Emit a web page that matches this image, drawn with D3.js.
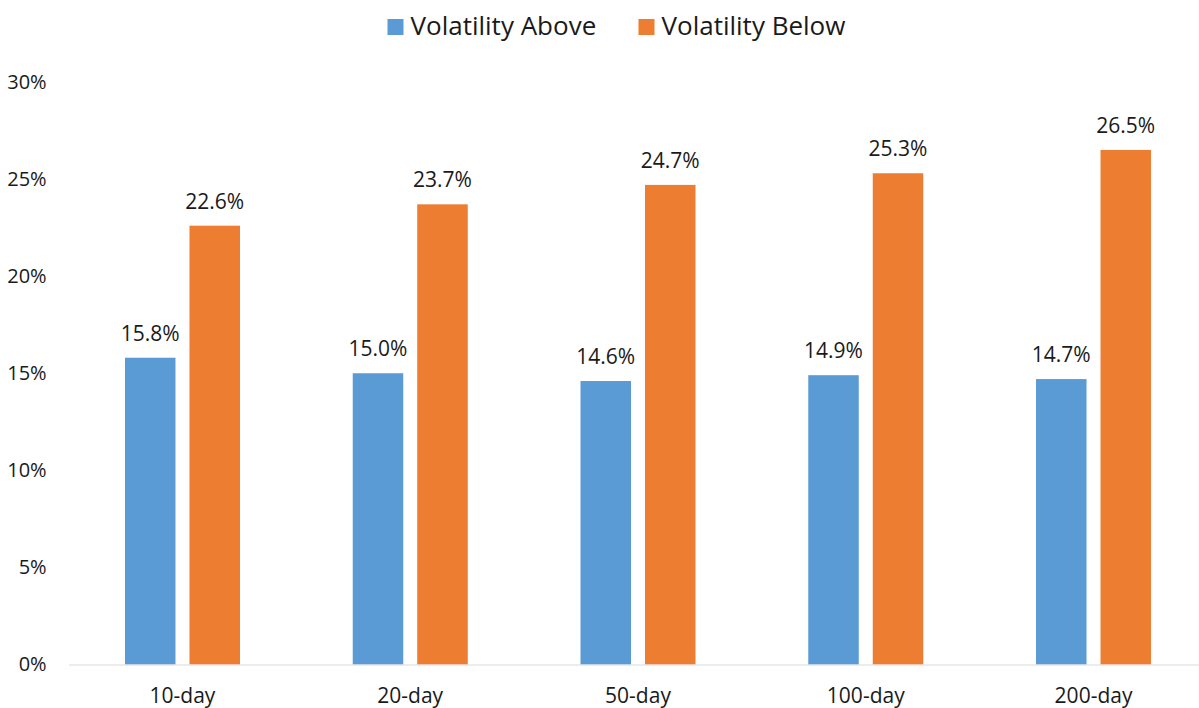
<!DOCTYPE html>
<html>
<head>
<meta charset="utf-8">
<script src="https://cdn.jsdelivr.net/npm/d3@7/dist/d3.min.js"></script>
<style>
  html, body { margin: 0; padding: 0; background: #fff; }
  svg { display: block; font-family: "Open Sans", "Noto Sans", sans-serif; }
</style>
</head>
<body>
<svg id="chart" width="1199" height="708"></svg>
<script>
// Moving-average windows on the x axis
const categories = ["10-day", "20-day", "50-day", "100-day", "200-day"];
// Series names and colours
const seriesNames = ["Volatility Above", "Volatility Below"];
const seriesColors = ["#5B9BD5", "#ED7D31"];
// Annualised volatility (%) for each window
const volAbove = [15.8, 15.0, 14.6, 14.9, 14.7];
const volBelow = [22.6, 23.7, 24.7, 25.3, 26.5];
// Y axis ticks (%)
const yTicks = [0, 5, 10, 15, 20, 25, 30];

const seriesValues = [volAbove, volBelow];

const svg = d3.select("#chart");
const plot = { left: 68.6, right: 1207.4, top: 82, bottom: 664.5 };

const x0 = d3.scaleBand()
  .domain(categories)
  .range([plot.left, plot.right])
  .paddingInner(0)
  .paddingOuter(0);

const x1 = d3.scaleBand()
  .domain(seriesNames)
  .range([0, x0.bandwidth()])
  .paddingInner(0.217)
  .paddingOuter(0.874);

const y = d3.scaleLinear()
  .domain([0, 30])
  .range([plot.bottom, plot.top]);

// Y axis labels (no axis line, no gridlines)
const yAxis = d3.axisLeft(y)
  .tickValues(yTicks)
  .tickFormat(d => d + "%")
  .tickSize(0)
  .tickPadding(22);

const gy = svg.append("g")
  .attr("transform", `translate(${plot.left},0)`)
  .call(yAxis);
gy.select(".domain").remove();
gy.selectAll("text")
  .attr("font-size", 20)
  .attr("fill", "#1a1a1a")
  .attr("font-family", "'Open Sans', sans-serif");

// Bars
const groups = svg.append("g").selectAll("g")
  .data(categories)
  .join("g")
  .attr("transform", d => `translate(${x0(d)},0)`);

groups.selectAll("rect")
  .data((c, i) => seriesNames.map((s, k) => ({ s, k, v: seriesValues[k][i] })))
  .join("rect")
  .attr("x", d => x1(d.s))
  .attr("width", x1.bandwidth())
  .attr("y", d => y(d.v))
  .attr("height", d => y(0) - y(d.v))
  .attr("fill", d => seriesColors[d.k]);

// Value labels
groups.selectAll("text.val")
  .data((c, i) => seriesNames.map((s, k) => ({ s, k, v: seriesValues[k][i] })))
  .join("text")
  .attr("class", "val")
  .attr("x", d => x1(d.s) + x1.bandwidth() / 2)
  .attr("y", d => y(d.v) - 17)
  .attr("text-anchor", "middle")
  .attr("font-size", 21)
  .attr("fill", "#1a1a1a")
  .text(d => d.v.toFixed(1) + "%");

// X axis baseline and category labels
const xAxis = d3.axisBottom(x0).tickSize(0).tickPadding(24);
const gx = svg.append("g")
  .attr("transform", `translate(0,${plot.bottom})`)
  .call(xAxis);
gx.select(".domain").attr("stroke", "#D9D9D9").attr("stroke-width", 1.2);
gx.selectAll("text")
  .attr("font-size", 21)
  .attr("fill", "#1a1a1a")
  .attr("font-family", "'Open Sans', sans-serif");

// Legend
const legendItems = [
  { name: seriesNames[0], color: seriesColors[0], x: 387.5 },
  { name: seriesNames[1], color: seriesColors[1], x: 638.5 }
];
const lg = svg.append("g").selectAll("g")
  .data(legendItems)
  .join("g")
  .attr("transform", d => `translate(${d.x},19)`);
lg.append("rect")
  .attr("width", 16)
  .attr("height", 16)
  .attr("fill", d => d.color);
lg.append("text")
  .attr("x", 23)
  .attr("y", 16)
  .attr("font-size", 26)
  .attr("fill", "#1a1a1a")
  .text(d => d.name);
</script>
</body>
</html>
